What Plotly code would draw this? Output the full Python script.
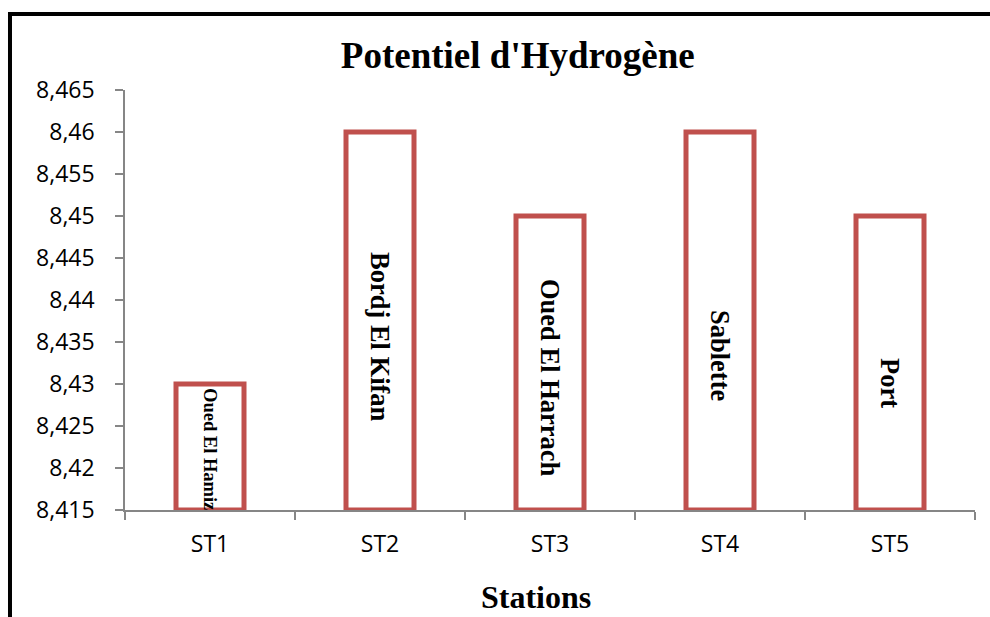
import plotly.graph_objects as go

# pH measured at each sampling station
stations = ["ST1", "ST2", "ST3", "ST4", "ST5"]
site_names = ["Oued El Hamiz", "Bordj El Kifan", "Oued El Harrach", "Sablette", "Port"]
ph_values = [8.43, 8.46, 8.45, 8.46, 8.45]

y_min, y_max, y_step = 8.415, 8.465, 0.005
y_ticks = [round(y_min + i * y_step, 3) for i in range(int(round((y_max - y_min) / y_step)) + 1)]
y_ticktext = [f"{v:.3f}".rstrip("0").replace(".", ",") for v in y_ticks]

# vertical placement tweaks (px) and font sizes of the in-bar station names
label_shift = [-2, -16, -15, -35, -20]
label_size = [18.5, 26.5, 26.5, 26.5, 26.5]

RED = "#C0504D"
AXIS = "#868686"
SERIF = "Liberation Serif, Times New Roman, serif"
SANS = "Open Sans, sans-serif"

fig = go.Figure(
    go.Bar(
        x=stations,
        y=[v - y_min for v in ph_values],
        base=y_min,
        width=0.40,
        marker=dict(color="white", line=dict(color=RED, width=5)),
        hoverinfo="skip",
    )
)

for st, name, v, dy, fs in zip(stations, site_names, ph_values, label_shift, label_size):
    fig.add_annotation(
        x=st, y=(v + y_min) / 2, text=f"<b>{name}</b>", textangle=90,
        showarrow=False, yshift=dy, xanchor="center", yanchor="middle",
        font=dict(family=SERIF, size=fs, color="black"),
    )

# x-axis title
fig.add_annotation(
    xref="paper", yref="paper", x=0.4835, y=-0.207, text="<b>Stations</b>",
    showarrow=False, xanchor="center", yanchor="middle",
    font=dict(family=SERIF, size=32, color="black"),
)

# outer chart frame (left and top edges visible)
fig.add_shape(
    type="rect", xref="paper", yref="paper",
    x0=-0.1353, x1=1.2, y0=-0.4, y1=1.181,
    line=dict(color="black", width=4), fillcolor="rgba(0,0,0,0)", layer="above",
)

fig.update_layout(
    width=990, height=617,
    margin=dict(l=125, r=15, t=90, b=107),
    paper_bgcolor="white", plot_bgcolor="white",
    showlegend=False,
    title=dict(
        text="<b>Potentiel d'Hydrogène</b>", xref="container", yref="container",
        x=0.523, y=0.911, xanchor="center", yanchor="middle",
        font=dict(family=SERIF, size=37, color="black"),
    ),
    xaxis=dict(
        showline=True, linecolor=AXIS, linewidth=1.5,
        ticks="outside", tickson="boundaries", ticklen=8, tickcolor=AXIS, tickwidth=1.5,
        tickfont=dict(family=SANS, size=23, color="black"),
        ticklabelstandoff=13, showgrid=False, zeroline=False,
    ),
    yaxis=dict(
        range=[y_min, y_max],
        tickvals=y_ticks, ticktext=y_ticktext,
        showline=True, linecolor=AXIS, linewidth=1.5,
        ticks="outside", ticklen=8, tickcolor=AXIS, tickwidth=1.5,
        tickfont=dict(family=SANS, size=23, color="black"),
        ticklabelstandoff=16, showgrid=False, zeroline=False,
    ),
)

fig.write_html("out.html")
